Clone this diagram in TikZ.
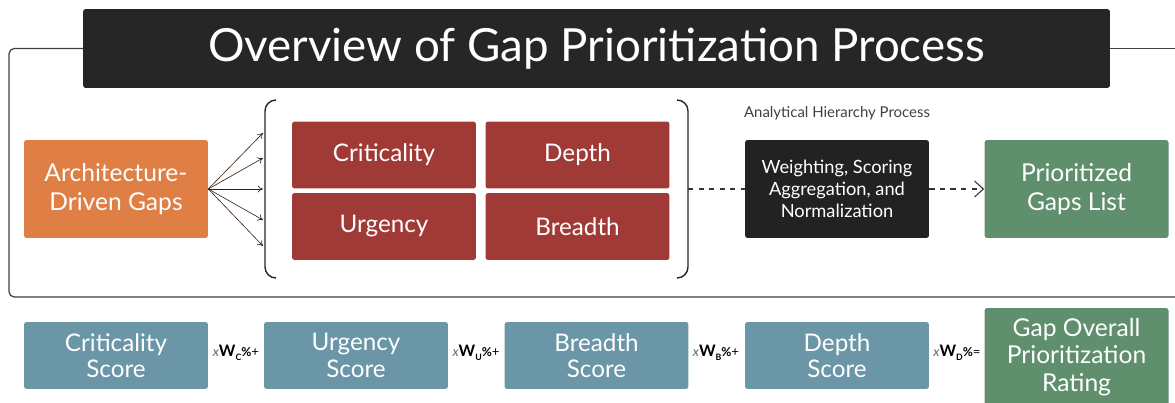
\documentclass[tikz,border=0pt]{standalone}
\usepackage{fontspec}
\setmainfont{Lato}
\usetikzlibrary{arrows.meta}
\definecolor{titlebg}{HTML}{262626}
\definecolor{gapor}{HTML}{E07F45}
\definecolor{critred}{HTML}{A03A37}
\definecolor{ahpdark}{HTML}{222222}
\definecolor{listgreen}{HTML}{5F8F6C}
\definecolor{scoreblue}{HTML}{6A96A8}
\definecolor{framegray}{HTML}{404040}
\newcommand{\wgt}[2]{{\fontsize{7.5}{8}\selectfont\itshape\color{black!60}x}{\bfseries\fontsize{9}{9}\selectfont W}\raisebox{-0.45ex}{\bfseries\fontsize{5}{5}\selectfont #1}{\bfseries\fontsize{7}{7}\selectfont\%}{\fontsize{7.5}{8}\selectfont #2}}
\tikzset{
  box/.style={rounded corners=1.5pt, text=white, align=center, inner sep=0pt,
    minimum width=3.68cm, font=\fontsize{13.8}{15}\selectfont},
  bigbox/.style={box, minimum height=1.96cm},
  smallbox/.style={box, minimum height=1.34cm},
  fanarrow/.style={-{To[length=3pt,width=4pt]}, line width=0.35pt},
  flowline/.style={dashed, line width=0.6pt, black!80}
}
\begin{document}
\begin{tikzpicture}[x=0.02cm, y=-0.02cm]
\useasboundingbox (0,0) rectangle (1175,402);
\def\yM{189}
\def\yB{355.5}
% title and frame
\node[fill=titlebg, text=white, minimum width=20.54cm, minimum height=1.58cm,
  rounded corners=1.5pt, font=\fontsize{26}{30}\selectfont] (title) at (596.5,48.5)
  {Overview of Gap Prioritization Process};
\draw[framegray, line width=0.7pt, rounded corners=3pt]
  (title.west) -- (9,48.5) -- (9,297) -- (1180,297);
\draw[framegray, line width=0.7pt] (title.east) -- (1180,48.5);

% upper row
\node[bigbox, fill=gapor, font=\fontsize{14}{16}\selectfont] (gaps) at (116,\yM)
  {Architecture-\\Driven Gaps};
\node[smallbox, fill=critred] (crit) at (384,155) {Criticality};
\node[smallbox, fill=critred] (depth) at (577.5,155) {Depth};
\node[smallbox, fill=critred] (urg) at (384,226.5) {Urgency};
\node[smallbox, fill=critred] (breadth) at (577.5,226.5) {Breadth};

% brackets
\draw[black!85, line width=0.8pt] (276,100) to[out=180,in=90] (265,111)
  -- (265,267) to[out=-90,in=180] (276,278);
\draw[black!85, line width=0.8pt] (677,100) to[out=0,in=90] (688,111)
  -- (688,267) to[out=-90,in=0] (677,278);
\coordinate (brR) at (688,\yM);

% fan of arrows into the bracket
\foreach \n/\y in {1/133,2/158,3/189,4/220,5/246} {
  \coordinate (t\n) at (263,\y);
  \draw[fanarrow, black!75!gapor] (gaps.east) -- (t\n);
}

% AHP step
\node[bigbox, fill=ahpdark, font=\fontsize{10.4}{12.5}\selectfont] (ahp) at (837,\yM)
  {Weighting, Scoring\\Aggregation, and\\Normalization};
\node[font=\fontsize{8.5}{10}\selectfont, text=black!75] (ahplbl) at (837,113)
  {Analytical Hierarchy Process};
\node[bigbox, fill=listgreen, font=\fontsize{14}{16}\selectfont] (plist) at (1076.5,\yM)
  {Prioritized\\Gaps List};
\draw[flowline] (brR) -- (ahp.west);
\draw[flowline, -{Straight Barb[length=5pt,width=9pt]}] (ahp.east) -- (plist.west);

% lower row: weighted sum
\node[smallbox, fill=scoreblue] (cs) at (116,\yB) {Criticality\\Score};
\node[smallbox, fill=scoreblue] (us) at (356,\yB) {Urgency\\Score};
\node[smallbox, fill=scoreblue] (bs) at (596.5,\yB) {Breadth\\Score};
\node[smallbox, fill=scoreblue] (ds) at (837,\yB) {Depth\\Score};
\node[bigbox, fill=listgreen, font=\fontsize{14}{15.5}\selectfont] (rating) at (1076.5,357)
  {Gap Overall\\Prioritization\\Rating};
\node (wc) at (236,353) {\wgt{C}{+}};
\node (wu) at (476,353) {\wgt{U}{+}};
\node (wb) at (716,353) {\wgt{B}{+}};
\node (wd) at (957,353) {\wgt{D}{=}};
\end{tikzpicture}
\end{document}
